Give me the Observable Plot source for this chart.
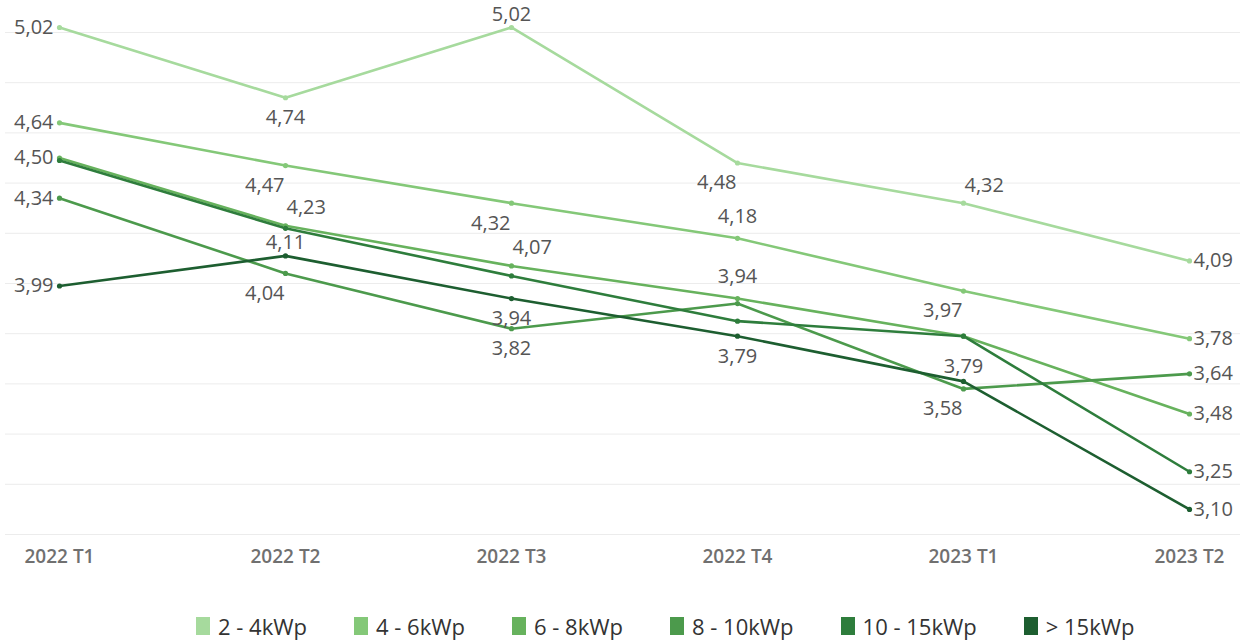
<!DOCTYPE html>
<html>
<head>
<meta charset="utf-8">
<script src="https://cdn.jsdelivr.net/npm/d3@7"></script>
<script src="https://cdn.jsdelivr.net/npm/@observablehq/plot@0.6"></script>
<style>
  html, body { margin: 0; padding: 0; background: #fff; }
  #chart svg { display: block; }
  #legend {
    display: flex; align-items: center; gap: 47px;
    margin-left: 196px; margin-top: 26px;
    font-family: "Open Sans", sans-serif; font-size: 22px; color: #333;
  }
  #legend .item { display: flex; align-items: center; gap: 8px; }
  #legend .sw { width: 14px; height: 18px; display: inline-block; }
</style>
</head>
<body>
<div id="chart"></div>
<div id="legend"></div>
<script>
const periods = ["2022 T1", "2022 T2", "2022 T3", "2022 T4", "2023 T1", "2023 T2"];
const series = ["2 - 4kWp", "4 - 6kWp", "6 - 8kWp", "8 - 10kWp", "10 - 15kWp", "> 15kWp"];
const colors = ["#a6da9d", "#84c878", "#67b25d", "#4c9a4c", "#2e7d3c", "#1d5e30"];

const v2_4   = [5.02, 4.74, 5.02, 4.48, 4.32, 4.09];
const v4_6   = [4.64, 4.47, 4.32, 4.18, 3.97, 3.78];
const v6_8   = [4.50, 4.23, 4.07, 3.94, 3.79, 3.48];
const v8_10  = [4.34, 4.04, 3.82, 3.92, 3.58, 3.64];
const v10_15 = [4.49, 4.22, 4.03, 3.85, 3.79, 3.25];
const v15    = [3.99, 4.11, 3.94, 3.79, 3.61, 3.10];

const yTicks = [3.0, 3.2, 3.4, 3.6, 3.8, 4.0, 4.2, 4.4, 4.6, 4.8, 5.0];

// which data points carry a value label, and on which side of the point
const labelSpots = [
  ["2 - 4kWp", "2022 T1", "W"], ["4 - 6kWp", "2022 T1", "W"], ["6 - 8kWp", "2022 T1", "W"],
  ["8 - 10kWp", "2022 T1", "W"], ["> 15kWp", "2022 T1", "W"],
  ["2 - 4kWp", "2022 T2", "S"], ["4 - 6kWp", "2022 T2", "SW"], ["6 - 8kWp", "2022 T2", "NE"],
  ["> 15kWp", "2022 T2", "Nt"], ["8 - 10kWp", "2022 T2", "SW"],
  ["2 - 4kWp", "2022 T3", "Nt"], ["4 - 6kWp", "2022 T3", "SW"], ["6 - 8kWp", "2022 T3", "NE"],
  ["> 15kWp", "2022 T3", "S"], ["8 - 10kWp", "2022 T3", "S"],
  ["2 - 4kWp", "2022 T4", "SW"], ["4 - 6kWp", "2022 T4", "N"], ["6 - 8kWp", "2022 T4", "N"],
  ["> 15kWp", "2022 T4", "S"],
  ["2 - 4kWp", "2023 T1", "NE"], ["4 - 6kWp", "2023 T1", "SW"], ["6 - 8kWp", "2023 T1", "S2"],
  ["8 - 10kWp", "2023 T1", "SW"],
  ["2 - 4kWp", "2023 T2", "E"], ["4 - 6kWp", "2023 T2", "E"], ["6 - 8kWp", "2023 T2", "E"],
  ["8 - 10kWp", "2023 T2", "E"], ["10 - 15kWp", "2023 T2", "E"], ["> 15kWp", "2023 T2", "E"]
];

const valuesBySeries = [v2_4, v4_6, v6_8, v8_10, v10_15, v15];
const rows = [];
series.forEach((s, i) => periods.forEach((p, j) => rows.push({series: s, period: p, value: valuesBySeries[i][j]})));
const lookup = new Map(rows.map(r => [r.series + "|" + r.period, r]));
const labels = labelSpots.map(([s, p, pos]) => ({...lookup.get(s + "|" + p), pos}));
const fmt = v => d3.format(".2f")(v).replace(".", ",");

const placements = {
  W:  {textAnchor: "end", dx: -6, dy: 0},
  E:  {textAnchor: "start", dx: 4, dy: 0},
  N:  {textAnchor: "middle", dx: 0, dy: -22},
  Nt: {textAnchor: "middle", dx: 0, dy: -13},
  S:  {textAnchor: "middle", dx: 0, dy: 20},
  S2: {textAnchor: "middle", dx: 0, dy: 30},
  SW: {textAnchor: "end", dx: -1, dy: 20},
  NE: {textAnchor: "start", dx: 1, dy: -18}
};

const textMarks = Object.entries(placements).map(([code, opt]) =>
  Plot.text(labels.filter(d => d.pos === code), {
    x: "period", y: "value", text: d => fmt(d.value),
    fill: "#555", fontSize: 20, ...opt
  })
);

const chart = Plot.plot({
  width: 1243,
  height: 585,
  marginTop: 32,
  marginBottom: 51,
  marginLeft: 5,
  marginRight: 3,
  style: {fontFamily: "'Open Sans', sans-serif", background: "#fff"},
  x: {type: "point", domain: periods, padding: 0, insetLeft: 53, insetRight: 51, axis: null},
  y: {domain: [3, 5], axis: null},
  color: {domain: series, range: colors},
  marks: [
    Plot.ruleY(yTicks, {stroke: "#ececec", strokeWidth: 1}),
    Plot.line(rows, {x: "period", y: "value", z: "series", stroke: "series", strokeWidth: 2.6}),
    Plot.dot(rows, {x: "period", y: "value", fill: "series", r: 2.6}),
    ...textMarks,
    Plot.axisX({tickSize: 0, tickPadding: 15, fontSize: 19, fontWeight: 600, fill: "#707070", label: null})
  ]
});
document.getElementById("chart").appendChild(chart);

const legend = document.getElementById("legend");
series.forEach((s, i) => {
  const item = document.createElement("div");
  item.className = "item";
  const sw = document.createElement("span");
  sw.className = "sw";
  sw.style.background = colors[i];
  const t = document.createElement("span");
  t.textContent = s;
  item.appendChild(sw);
  item.appendChild(t);
  legend.appendChild(item);
});
</script>
</body>
</html>
